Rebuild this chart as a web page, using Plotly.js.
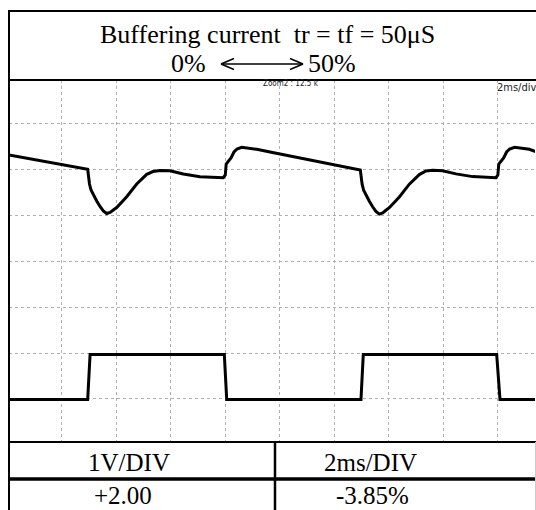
<!DOCTYPE html>
<html>
<head>
<meta charset="utf-8">
<script src="https://cdn.plot.ly/plotly-3.0.1.min.js"></script>
<style>html,body{margin:0;padding:0;background:#fff;}</style>
</head>
<body>
<div id="chart" style="width:536px;height:510px;"></div>
<script>
// ---- data (time in ms, 2 ms/div; level in divisions, 1 V/div) ----
const timeUpper = [0.066, 2.952, 2.982, 3.018, 3.074, 3.158, 3.283, 3.404, 3.525, 3.649, 3.774, 3.891, 4.016, 4.383, 4.750, 5.116, 5.348, 5.604, 5.971, 6.459, 7.071, 7.926, 7.999, 8.032, 8.098, 8.208, 8.318, 8.428, 8.600, 9.151, 9.639,
                   12.951, 12.981, 13.017, 13.073, 13.157, 13.282, 13.403, 13.524, 13.648, 13.773, 13.890, 14.015, 14.382, 14.749, 15.115, 15.360, 15.600, 15.970, 16.460, 17.070, 17.925, 17.995, 18.030, 18.097, 18.207, 18.317, 18.427, 18.610, 19.150, 19.390];
const upperLevel = [6.316, 6.004, 5.858, 5.684, 5.553, 5.444, 5.314, 5.194, 5.096, 5.041, 5.063, 5.118, 5.172, 5.407, 5.684, 5.895, 5.956, 5.978, 5.974, 5.902, 5.843, 5.821, 5.880, 6.120, 6.163, 6.251, 6.381, 6.447, 6.484, 6.440, 6.381,
                    5.989, 5.850, 5.680, 5.548, 5.440, 5.308, 5.188, 5.088, 5.028, 5.055, 5.112, 5.168, 5.402, 5.680, 5.890, 5.967, 5.982, 5.972, 5.905, 5.845, 5.821, 5.880, 6.120, 6.163, 6.251, 6.381, 6.447, 6.484, 6.440, 6.388];
const timeLower = [0.066, 2.952, 3.040, 7.963, 8.051, 12.976, 13.060, 17.953, 18.074, 19.390];
const lowerLevel = [0.99, 0.99, 1.97, 1.97, 0.99, 0.99, 1.97, 1.97, 0.99, 0.99];

const titleLine1 = "Buffering current\u00A0\u00A0tr = tf = 50μS";
const titleLeft = "0%";
const titleRight = "50%";
const tableHeaders = ["1V/DIV", "2ms/DIV"];
const tableValues = ["+2.00", "-3.85%"];
const zoomLabel = "Zoom2 : 12.5 k";
const scaleLabel = "2ms/div";

// ---- layout helpers (pixel -> paper) ----
const W = 536, H = 510, ML = 9, MR = 1, MT = 80, MB = 68;
const PW = W - ML - MR, PH = H - MT - MB;
const X = px => (px - ML) / PW;
const Y = py => (H - MB - py) / PH;

const serif = "Liberation Serif, Times New Roman, serif";
function txt(text, px, py, size, extra) {
  return Object.assign({
    text: text, xref: "paper", yref: "paper", x: X(px), y: Y(py),
    xanchor: "center", yanchor: "middle", showarrow: false,
    font: {family: serif, size: size, color: "#000"}
  }, extra || {});
}
function hline(py, x0, x1, w, c) {
  return {type: "line", xref: "paper", yref: "paper", x0: X(x0), x1: X(x1), y0: Y(py), y1: Y(py),
          line: {color: c || "#000", width: w}};
}
function vline(px, y0, y1, w, c) {
  return {type: "line", xref: "paper", yref: "paper", x0: X(px), x1: X(px), y0: Y(y0), y1: Y(y1),
          line: {color: c || "#000", width: w}};
}
function seg(a, b, w) {
  return {type: "line", xref: "paper", yref: "paper", x0: X(a[0]), y0: Y(a[1]), x1: X(b[0]), y1: Y(b[1]),
          line: {color: "#000", width: w}};
}

const traces = [
  {x: timeUpper, y: upperLevel, mode: "lines", line: {color: "#000", width: 3, shape: "linear"}, hoverinfo: "skip"},
  {x: timeLower, y: lowerLevel, mode: "lines", line: {color: "#000", width: 3}, hoverinfo: "skip"}
];

const shapes = [
  hline(11, 9, 537, 2),
  hline(80, 9, 537, 2),
  hline(442, 9, 537, 2),
  hline(479, 9, 537, 3.5),
  vline(9, 10, 511, 2),
  vline(275, 442, 511, 2.5),
  vline(535.5, 442, 511, 1, "#ccc"),
  // double arrow in title
  seg([221, 64], [303, 64], 1.5),
  seg([221, 64], [234, 58.5], 1.5),
  seg([221, 64], [234, 69.5], 1.5),
  seg([303, 64], [290, 58.5], 1.5),
  seg([303, 64], [290, 69.5], 1.5)
];

const annotations = [
  txt(titleLine1, 267, 34, 26),
  txt(titleLeft, 188, 64, 26),
  txt(titleRight, 332, 64, 26),
  txt(tableHeaders[0], 129, 462, 25),
  txt(tableHeaders[1], 370, 462, 25),
  txt(tableValues[0], 123, 495, 25),
  txt(tableValues[1], 372, 495, 25),
  txt(zoomLabel, 291, 84, 8, {font: {family: "DejaVu Sans Condensed, DejaVu Sans, sans-serif", size: 8, color: "#222"}}),
  txt(scaleLabel, 516, 87, 11, {font: {family: "DejaVu Sans Condensed, Liberation Sans Narrow, sans-serif", size: 11, color: "#222"}})
];

const layout = {
  width: W, height: H,
  margin: {l: ML, r: MR, t: MT, b: MB, pad: 0},
  paper_bgcolor: "#fff", plot_bgcolor: "#fff",
  showlegend: false,
  xaxis: {range: [0.066, 19.358], tick0: 0, dtick: 2, showticklabels: false, ticks: "",
          showgrid: true, gridcolor: "#b0b0b0", griddash: "dot", gridwidth: 1,
          zeroline: false, showline: false, fixedrange: true},
  yaxis: {range: [0.063, 7.950], tick0: 0, dtick: 1, showticklabels: false, ticks: "",
          showgrid: true, gridcolor: "#b0b0b0", griddash: "dot", gridwidth: 1,
          zeroline: false, showline: false, fixedrange: true},
  shapes: shapes,
  annotations: annotations
};

Plotly.newPlot("chart", traces, layout, {staticPlot: true, displayModeBar: false});
</script>
</body>
</html>
